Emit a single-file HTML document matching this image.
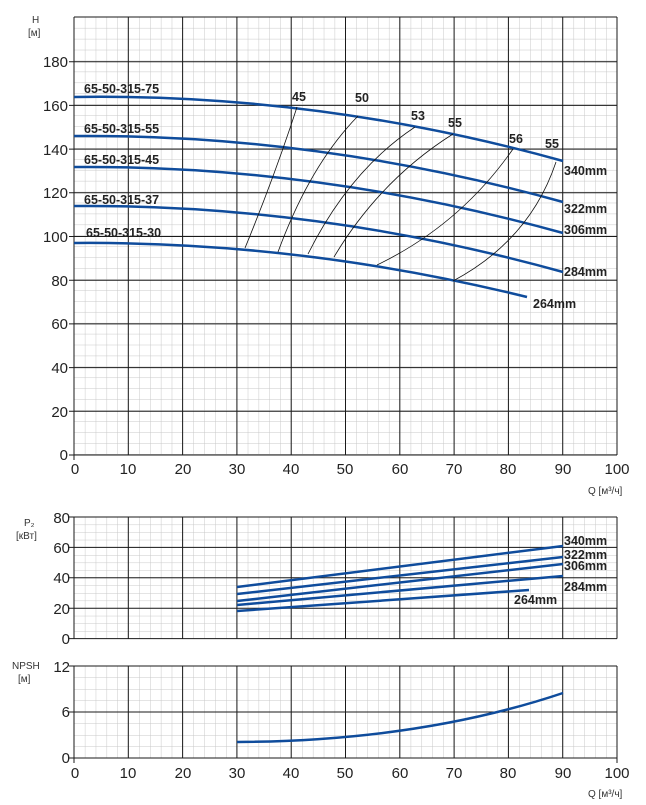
<!DOCTYPE html>
<html><head><meta charset="utf-8"><style>
html,body{margin:0;padding:0;background:#fff}
svg{display:block}
text{font-family:"Liberation Sans",sans-serif}
.t{font-size:15px;fill:#222}
.b{font-size:12.5px;font-weight:bold;fill:#222}
.s{font-size:10px;fill:#333}
.cv{fill:none;stroke:#0f4c9c;stroke-width:2.5}
.ef{fill:none;stroke:#111;stroke-width:0.8}
.mj{stroke:#1a1a1a;stroke-width:1}
</style></head><body>
<svg width="646" height="805" viewBox="0 0 646 805">
<defs>
<pattern id="g1" x="74" y="17" width="10.86" height="10.925" patternUnits="userSpaceOnUse"><path d="M0 0V10.925M0 0H10.86" stroke="#c8c8c8" stroke-width="1" fill="none"/></pattern>
<pattern id="g2" x="74" y="517" width="10.86" height="7.6" patternUnits="userSpaceOnUse"><path d="M0 0V7.6M0 0H10.86" stroke="#c8c8c8" stroke-width="1" fill="none"/></pattern>
<pattern id="g3" x="74" y="666" width="10.86" height="11.5" patternUnits="userSpaceOnUse"><path d="M0 0V11.5M0 0H10.86" stroke="#c8c8c8" stroke-width="1" fill="none"/></pattern>
</defs>
<rect x="74" y="17" width="543" height="438" fill="url(#g1)"/>
<g class="mj">
<path d="M128.3 17V455M182.6 17V455M236.9 17V455M291.2 17V455M345.5 17V455M399.8 17V455M454.1 17V455M508.4 17V455M562.7 17V455M617 17V455M74 17V460"/>
<path d="M74 17H617M69 61.7H617M69 105.4H617M69 149.1H617M69 192.8H617M69 236.5H617M69 280.2H617M69 323.9H617M69 367.6H617M69 411.3H617M69 455H617"/>
</g>
<g class="t" text-anchor="end">
<text x="68" y="67">180</text><text x="68" y="111">160</text><text x="68" y="155">140</text><text x="68" y="198">120</text><text x="68" y="242">100</text><text x="68" y="286">80</text><text x="68" y="329">60</text><text x="68" y="373">40</text><text x="68" y="417">20</text><text x="68" y="460">0</text>
</g>
<g class="t" text-anchor="middle">
<text x="75" y="474">0</text><text x="128" y="474">10</text><text x="183" y="474">20</text><text x="237" y="474">30</text><text x="291" y="474">40</text><text x="345" y="474">50</text><text x="400" y="474">60</text><text x="454" y="474">70</text><text x="508" y="474">80</text><text x="563" y="474">90</text><text x="617" y="474">100</text>
</g>
<text class="s" x="588" y="494">Q [м³/ч]</text>
<text class="s" x="32" y="23" font-size="11">H</text><text class="s" x="28" y="36" font-size="11">[м]</text>

<path class="cv" d="M74 97Q318 93 563 161"/>
<path class="cv" d="M74 136Q318 134 563 202"/>
<path class="cv" d="M74 167Q318 165 563 233"/>
<path class="cv" d="M74 206Q318 204 563 272"/>
<path class="cv" d="M74 243Q300 241 527 297"/>

<path class="ef" d="M245 248Q275 175 297 107"/>
<path class="ef" d="M278 252Q310 165 358 116"/>
<path class="ef" d="M308 254Q350 170 415 127"/>
<path class="ef" d="M334 257Q380 180 453 134"/>
<path class="ef" d="M377 265Q460 225 513 149"/>
<path class="ef" d="M453 281Q530 240 556 162"/>

<g class="b" font-size="13" text-anchor="middle">
<text x="299" y="101">45</text><text x="362" y="102">50</text><text x="418" y="120">53</text><text x="455" y="127">55</text><text x="516" y="143">56</text><text x="552" y="148">55</text>
</g>
<g class="b">
<text x="84" y="93">65-50-315-75</text><text x="84" y="133">65-50-315-55</text><text x="84" y="164">65-50-315-45</text><text x="84" y="204">65-50-315-37</text><text x="86" y="237">65-50-315-30</text>
<text x="564" y="175">340mm</text><text x="564" y="213">322mm</text><text x="564" y="234">306mm</text><text x="564" y="276">284mm</text><text x="533" y="308">264mm</text>
</g>

<rect x="74" y="517" width="543" height="121.6" fill="url(#g2)"/>
<g class="mj">
<path d="M128.3 517V638.6M182.6 517V638.6M236.9 517V638.6M291.2 517V638.6M345.5 517V638.6M399.8 517V638.6M454.1 517V638.6M508.4 517V638.6M562.7 517V638.6M617 517V638.6M74 517V638.6"/>
<path d="M69 517H617M69 547.4H617M69 577.8H617M69 608.2H617M69 638.6H617"/>
</g>
<g class="t" text-anchor="end">
<text x="70" y="523">80</text><text x="70" y="553">60</text><text x="70" y="583">40</text><text x="70" y="614">20</text><text x="70" y="644">0</text>
</g>
<text class="s" x="24" y="526" font-size="11">P₂</text><text class="s" x="16" y="539" font-size="11">[кВт]</text>
<path class="cv" d="M237 587L563 546"/>
<path class="cv" d="M237 594L563 557"/>
<path class="cv" d="M237 601L563 564"/>
<path class="cv" d="M237 605L563 576"/>
<path class="cv" d="M237 611L529 590"/>
<g class="b">
<text x="564" y="545">340mm</text><text x="564" y="559">322mm</text><text x="564" y="570">306mm</text><text x="564" y="591">284mm</text><text x="514" y="604">264mm</text>
</g>

<rect x="74" y="666" width="543" height="92" fill="url(#g3)"/>
<g class="mj">
<path d="M128.3 666V758M182.6 666V758M236.9 666V758M291.2 666V758M345.5 666V758M399.8 666V758M454.1 666V758M508.4 666V758M562.7 666V758M617 666V763M74 666V763"/>
<path d="M69 666H617M69 712H617M69 758H617"/>
</g>
<g class="t" text-anchor="end">
<text x="70" y="672">12</text><text x="70" y="717">6</text><text x="70" y="763">0</text>
</g>
<text class="s" x="12" y="669" font-size="11">NPSH</text><text class="s" x="18" y="682" font-size="11">[м]</text>
<path class="cv" d="M237 742Q420 741 563 693"/>
<g class="t" text-anchor="middle">
<text x="75" y="778">0</text><text x="128" y="778">10</text><text x="183" y="778">20</text><text x="237" y="778">30</text><text x="291" y="778">40</text><text x="345" y="778">50</text><text x="400" y="778">60</text><text x="454" y="778">70</text><text x="508" y="778">80</text><text x="563" y="778">90</text><text x="617" y="778">100</text>
</g>
<text class="s" x="588" y="797">Q [м³/ч]</text>
</svg>
</body></html>
